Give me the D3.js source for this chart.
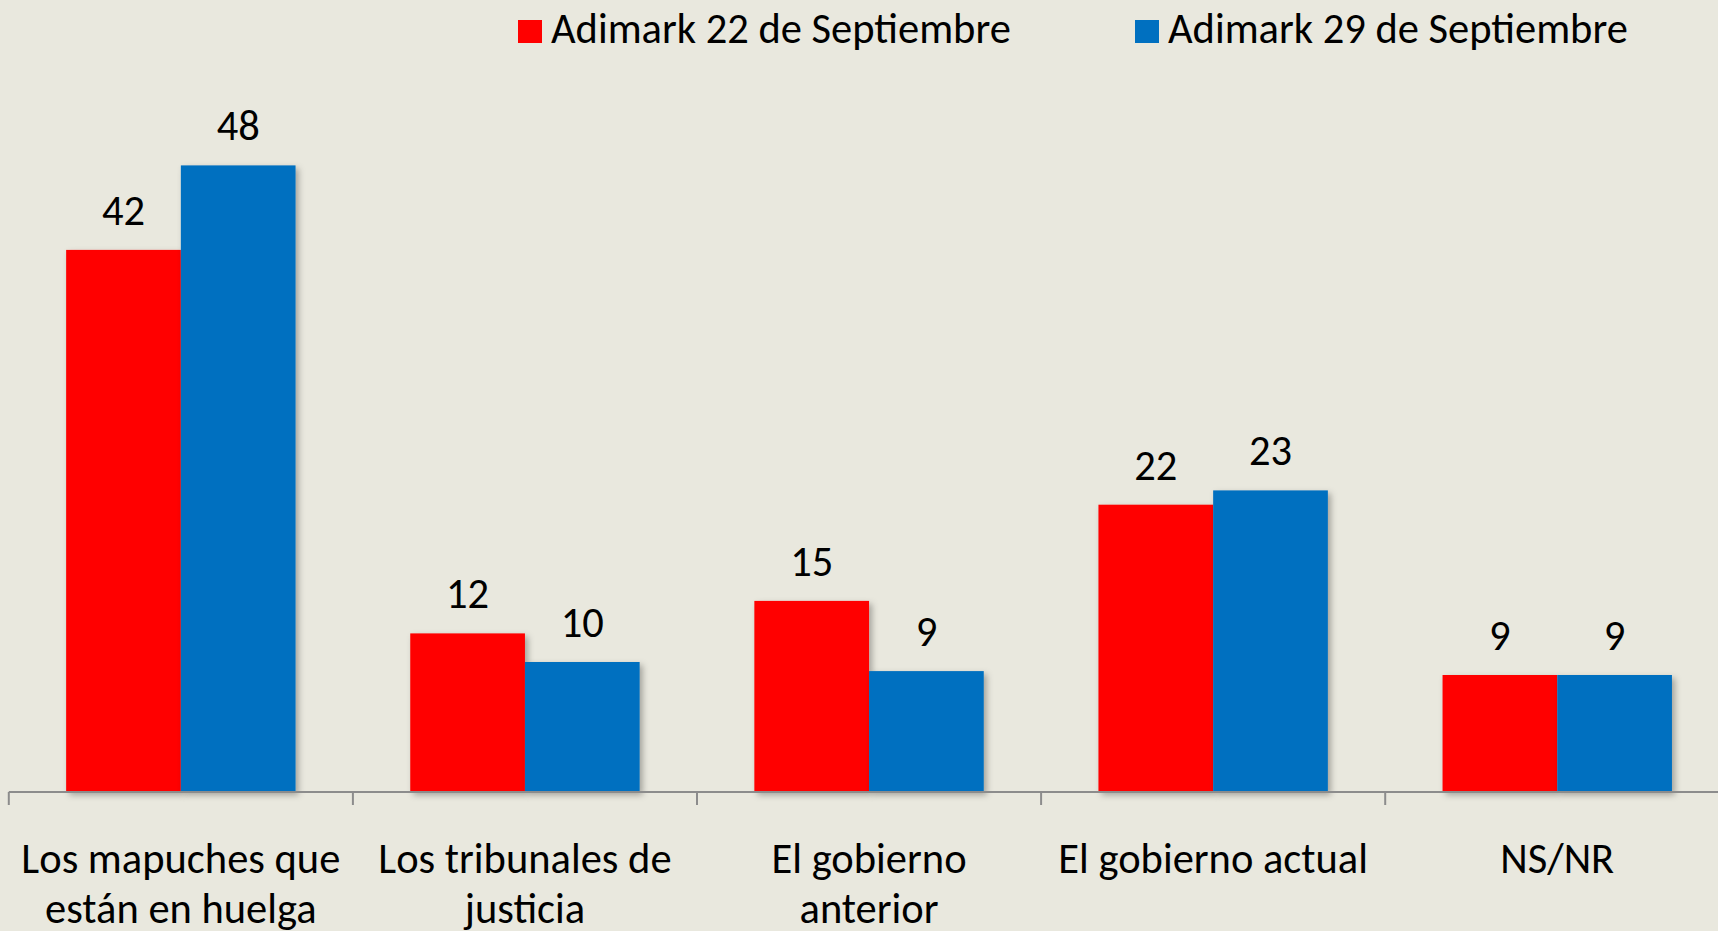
<!DOCTYPE html>
<html>
<head>
<meta charset="utf-8">
<script src="https://cdn.jsdelivr.net/npm/d3@7"></script>
<style>
  html, body { margin: 0; padding: 0; background: #E9E8DE; }
  svg { display: block; }
  text { font-family: Carlito, Calibri, Lato, sans-serif; fill: #000; }
</style>
</head>
<body>
<svg id="chart" width="1718" height="931"></svg>
<script>
// ---- Data ----
const categories = [
  "Los mapuches que están en huelga",
  "Los tribunales de justicia",
  "El gobierno anterior",
  "El gobierno actual",
  "NS/NR"
];
const categoryLines = [
  ["Los mapuches que", "están en huelga"],
  ["Los tribunales de", "justicia"],
  ["El gobierno", "anterior"],
  ["El gobierno actual"],
  ["NS/NR"]
];
const seriesNames = ["Adimark 22 de Septiembre", "Adimark 29 de Septiembre"];
// bar values (labels show them rounded)
const series22 = [41.7, 12.2, 14.7, 22.1, 9.0];
const series29 = [48.2, 10.0, 9.3, 23.2, 9.0];
const seriesColors = ["#FF0000", "#0070C0"];

// ---- Layout ----
const svg = d3.select("#chart");
const W = 1718, H = 931;
const baseY = 792;
const plotLeft = 8.8, plotRight = 8.8 + 5 * 344.1;
const fontSize = 42.5;

const x = d3.scaleBand().domain(categories).range([plotLeft, plotRight]).paddingInner(0).paddingOuter(0);
const xs = d3.scaleBand().domain(seriesNames).range([0, x.bandwidth()]).paddingInner(0).paddingOuter(0.5);
const y = d3.scaleLinear().domain([0, 60]).range([baseY, 12]);
const fmt = d3.format(".0f");

const defs = svg.append("defs");
const f = defs.append("filter").attr("id", "shadow").attr("x", "-10%").attr("y", "-10%").attr("width", "130%").attr("height", "130%");
f.append("feDropShadow").attr("dx", 3).attr("dy", 3).attr("stdDeviation", 3)
  .attr("flood-color", "#000").attr("flood-opacity", 0.3);

const data = categories.map((c, i) => ({
  cat: c,
  vals: [
    { s: seriesNames[0], v: series22[i], color: seriesColors[0] },
    { s: seriesNames[1], v: series29[i], color: seriesColors[1] }
  ]
}));

// bars
const groups = svg.append("g").selectAll("g").data(data).join("g")
  .attr("transform", d => `translate(${x(d.cat)},0)`);

groups.selectAll("rect").data(d => d.vals).join("rect")
  .attr("x", d => xs(d.s))
  .attr("y", d => y(d.v))
  .attr("width", xs.bandwidth())
  .attr("height", d => baseY - y(d.v))
  .attr("fill", d => d.color)
  .attr("filter", "url(#shadow)");

// value labels
groups.selectAll("text.val").data(d => d.vals).join("text")
  .attr("class", "val")
  .attr("x", d => xs(d.s) + xs.bandwidth() / 2)
  .attr("y", d => y(d.v) - 25)
  .attr("text-anchor", "middle")
  .attr("font-size", fontSize)
  .text(d => fmt(d.v));

// x axis
const axisG = svg.append("g").attr("transform", `translate(0,${baseY})`);
axisG.append("line").attr("x1", plotLeft).attr("x2", W).attr("y1", 0).attr("y2", 0)
  .attr("stroke", "#8C8C8C").attr("stroke-width", 2);
const tickPositions = categories.map(c => x(c)).concat([plotRight]);
axisG.selectAll("line.tick").data(tickPositions).join("line")
  .attr("class", "tick")
  .attr("x1", d => d).attr("x2", d => d)
  .attr("y1", 0).attr("y2", 13)
  .attr("stroke", "#8C8C8C").attr("stroke-width", 2);

// category labels
const catLab = svg.append("g").selectAll("text").data(categories).join("text")
  .attr("text-anchor", "middle")
  .attr("font-size", fontSize)
  .attr("x", c => x(c) + x.bandwidth() / 2)
  .attr("y", 873);
catLab.each(function(c, i) {
  const t = d3.select(this);
  categoryLines[i].forEach((ln, k) => {
    t.append("tspan").attr("x", x(c) + x.bandwidth() / 2).attr("y", 873 + k * 50).text(ln);
  });
});

// legend
const legendX = [518, 1135];
const leg = svg.append("g").selectAll("g").data(seriesNames).join("g")
  .attr("transform", (d, i) => `translate(${legendX[i]},0)`);
leg.append("rect").attr("x", 0).attr("y", 20).attr("width", 24).attr("height", 23)
  .attr("fill", (d, i) => seriesColors[i]);
leg.append("text").attr("x", 33).attr("y", 43).attr("font-size", fontSize).text(d => d);
</script>
</body>
</html>
